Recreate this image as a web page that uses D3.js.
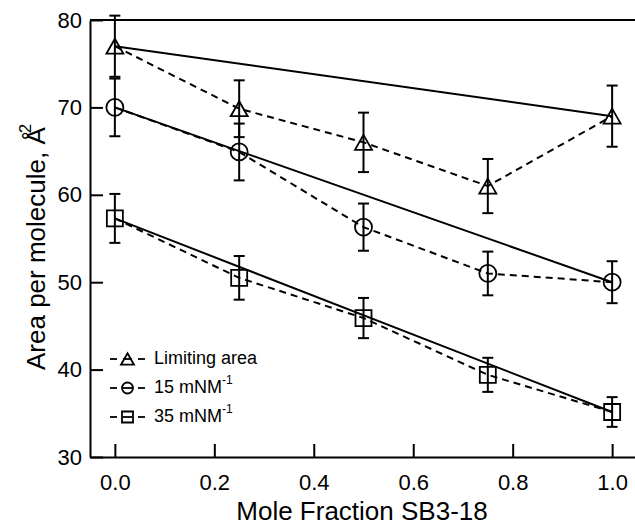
<!DOCTYPE html>
<html>
<head>
<meta charset="utf-8">
<script src="https://cdn.jsdelivr.net/npm/d3@7"></script>
<style>
  html, body { margin: 0; padding: 0; background: #fff; }
  svg { display: block; font-family: "Liberation Sans", Arial, sans-serif; }
</style>
</head>
<body>
<svg id="chart" width="635" height="527"></svg>
<script>
// ---- data ----
const fractions = [0, 0.25, 0.5, 0.75, 1.0];
const limitingArea = [77, 69.85, 66, 61, 69];
const limitingErr = [3.5, 3.25, 3.4, 3.1, 3.5];
const area15 = [70, 64.9, 56.3, 51.0, 50];
const err15 = [3.3, 3.25, 2.7, 2.5, 2.4];
const area35 = [57.3, 50.5, 45.9, 39.4, 35.15];
const err35 = [2.8, 2.5, 2.3, 1.95, 1.7];
const xTicks = [0, 0.2, 0.4, 0.6, 0.8, 1.0];
const yTicks = [30, 40, 50, 60, 70, 80];
const seriesNames = ["Limiting area", "15 mNM", "35 mNM"];
const seriesSup = ["", "-1", "-1"];
const seriesShapes = ["triangle", "circle", "square"];

const series = [
  { values: limitingArea, errs: limitingErr },
  { values: area15, errs: err15 },
  { values: area35, errs: err35 }
].map((s, i) => ({
  ...s, name: seriesNames[i], sup: seriesSup[i], shape: seriesShapes[i],
  points: fractions.map((f, j) => ({ x: f, y: s.values[j], e: s.errs[j] }))
}));

// ---- layout ----
const svg = d3.select("#chart");
const x = d3.scaleLinear().domain([-0.05, 1.05]).range([90, 637]);
const y = d3.scaleLinear().domain([30, 80]).range([457, 20]);
const SW = 2;

function markerPath(shape, size) {
  if (shape === "triangle") {
    const w = size, h = size * 0.88;
    return `M0,${-h/2}L${w/2},${h/2}L${-w/2},${h/2}Z`;
  }
  if (shape === "circle") {
    const r = size / 2;
    return `M${r},0A${r},${r} 0 1,1 ${-r},0A${r},${r} 0 1,1 ${r},0Z`;
  }
  const s = size / 2;
  return `M${-s},${-s}H${s}V${s}H${-s}Z`;
}
const plotSize = { triangle: 17, circle: 17, square: 16 };

// ---- axes ----
const xAxis = d3.axisBottom(x).tickValues(xTicks).tickSizeInner(-13).tickSizeOuter(0)
  .tickPadding(17).tickFormat(d3.format(".1f"));
const yAxis = d3.axisLeft(y).tickValues(yTicks).tickSizeInner(-13).tickSizeOuter(0)
  .tickPadding(8).tickFormat(d3.format("d"));

const gx = svg.append("g").attr("transform", `translate(0,${y(30)})`).call(xAxis);
const gy = svg.append("g").attr("transform", `translate(${x(-0.05)},0)`).call(yAxis);
[gx, gy].forEach(g => {
  g.selectAll("path.domain").attr("stroke", "#000").attr("stroke-width", SW);
  g.selectAll(".tick line").attr("stroke", "#000").attr("stroke-width", SW);
  g.selectAll(".tick text").attr("fill", "#000").style("font-size", "22px")
    .style("font-family", '"Liberation Sans", Arial, sans-serif');
});
// top frame
svg.append("line").attr("x1", x(-0.05)).attr("x2", x(1.05)).attr("y1", y(80)).attr("y2", y(80))
  .attr("stroke", "#000").attr("stroke-width", SW);

// axis titles
svg.append("text").attr("x", 362).attr("y", 520).attr("text-anchor", "middle")
  .style("font-size", "26px").text("Mole Fraction SB3-18");
const yt = svg.append("text").attr("transform", "translate(45,370) rotate(-90)")
  .attr("text-anchor", "start").style("font-size", "26px");
yt.append("tspan").text("Area per molecule, Å");
yt.append("tspan").attr("dx", -6).attr("dy", -14).style("font-size", "17px").text("2");

// ---- data marks ----
const line = d3.line().x(d => x(d.x)).y(d => y(d.y));
const plot = svg.append("g");

// solid ideal-mixing lines between end points
series.forEach(s => {
  const ends = [s.points[0], s.points[s.points.length - 1]];
  plot.append("path").attr("d", line(ends)).attr("fill", "none")
    .attr("stroke", "#000").attr("stroke-width", SW);
});
// dashed data lines
series.forEach(s => {
  plot.append("path").attr("d", line(s.points)).attr("fill", "none")
    .attr("stroke", "#000").attr("stroke-width", SW).attr("stroke-dasharray", "7,5");
});
// error bars
series.forEach(s => {
  const g = plot.append("g").attr("stroke", "#000").attr("stroke-width", SW);
  s.points.forEach(p => {
    g.append("line").attr("x1", x(p.x)).attr("x2", x(p.x)).attr("y1", y(p.y - p.e)).attr("y2", y(p.y + p.e));
    [p.y - p.e, p.y + p.e].forEach(v => {
      g.append("line").attr("x1", x(p.x) - 5.5).attr("x2", x(p.x) + 5.5).attr("y1", y(v)).attr("y2", y(v));
    });
  });
});
// markers
series.forEach(s => {
  plot.append("g").selectAll("path").data(s.points).join("path")
    .attr("transform", d => `translate(${x(d.x)},${y(d.y)})`)
    .attr("d", markerPath(s.shape, plotSize[s.shape]))
    .attr("fill", "none").attr("stroke", "#000").attr("stroke-width", 1.8);
});

// ---- legend ----
const legend = svg.append("g");
series.forEach((s, i) => {
  const cy = 359 + i * 29;
  const g = legend.append("g").attr("stroke", "#000").attr("stroke-width", 1.8);
  [[110, 117], [123, 132], [138, 145]].forEach(([a, b]) => {
    g.append("line").attr("x1", a).attr("x2", b).attr("y1", cy).attr("y2", cy);
  });
  g.append("path").attr("transform", `translate(127.5,${cy})`)
    .attr("d", markerPath(s.shape, s.shape === "triangle" ? 13 : 11)).attr("fill", "none");
  const t = legend.append("text").attr("x", 154).attr("y", cy + 5).style("font-size", "18px").text(s.name);
  if (s.sup) t.append("tspan").attr("dy", -9).style("font-size", "12px").text(s.sup);
});
</script>
</body>
</html>
